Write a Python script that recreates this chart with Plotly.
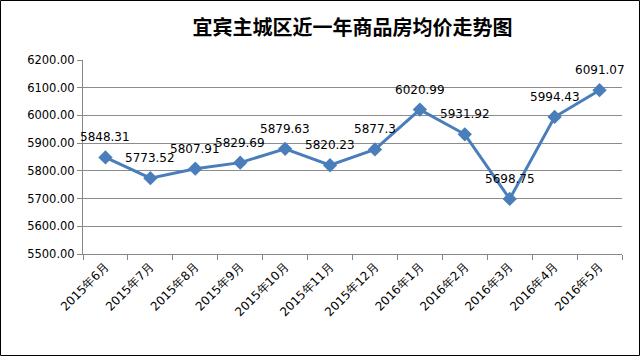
import plotly.graph_objects as go

categories = ["2015年6月", "2015年7月", "2015年8月", "2015年9月", "2015年10月", "2015年11月",
              "2015年12月", "2016年1月", "2016年2月", "2016年3月", "2016年4月", "2016年5月"]
values = [5848.31, 5773.52, 5807.91, 5829.69, 5879.63, 5820.23,
          5877.3, 6020.99, 5931.92, 5698.75, 5994.43, 6091.07]
label_texts = ["5848.31", "5773.52", "5807.91", "5829.69", "5879.63", "5820.23",
               "5877.3", "6020.99", "5931.92", "5698.75", "5994.43", "6091.07"]
y_ticks = [5500, 5600, 5700, 5800, 5900, 6000, 6100, 6200]
y_tick_labels = ["%.2f" % v for v in y_ticks]
title = "宜宾主城区近一年商品房均价走势图"

W, H = 640, 356
L, R, T, B = 83, 18, 60, 102
pw, ph = W - L - R, H - T - B

fig = go.Figure()
fig.add_trace(go.Scatter(
    x=categories, y=values, mode="lines+markers",
    line=dict(color="#4A7EBB", width=3),
    marker=dict(symbol="diamond", size=11, color="#4A7EBB"),
    hoverinfo="skip", showlegend=False,
))

for c, v, t in zip(categories, values, label_texts):
    fig.add_annotation(x=c, y=v, text=t, showarrow=False, yshift=20,
                       font=dict(family="DejaVu Sans", size=12, color="#000000"))

fig.add_shape(type="rect", xref="paper", yref="paper",
              x0=(0.5 - L) / pw, x1=(W - 0.5 - L) / pw,
              y0=-(H - 0.5 - (T + ph)) / ph, y1=1 + (T - 0.5) / ph,
              line=dict(color="#000000", width=1), fillcolor="rgba(0,0,0,0)", layer="above")

fig.update_layout(
    width=W, height=H,
    margin=dict(l=L, r=R, t=T, b=B),
    paper_bgcolor="white", plot_bgcolor="white",
    title=dict(text="<b>" + title + "</b>", x=0.5, xref="paper", xanchor="center",
               y=1 - 28 / H, yanchor="middle",
               font=dict(family="Noto Sans CJK SC", size=20, color="#000000")),
    xaxis=dict(
        type="category", categoryorder="array", categoryarray=categories,
        tickson="boundaries", ticks="outside", ticklen=5, tickcolor="#868686",
        showline=True, linecolor="#868686", linewidth=1, showgrid=False,
        tickangle=-45, tickfont=dict(family="DejaVu Sans", size=12, color="#000000"),
        range=[-0.5, len(categories) - 0.5], zeroline=False,
    ),
    yaxis=dict(
        range=[5500, 6200], tickvals=y_ticks, ticktext=y_tick_labels,
        ticks="outside", ticklen=5, tickcolor="#868686",
        showline=True, linecolor="#868686", linewidth=1,
        showgrid=True, gridcolor="#8c8c8c", gridwidth=1, zeroline=False,
        tickfont=dict(family="DejaVu Sans", size=11.5, color="#000000"),
    ),
)

fig.write_html("out.html")
